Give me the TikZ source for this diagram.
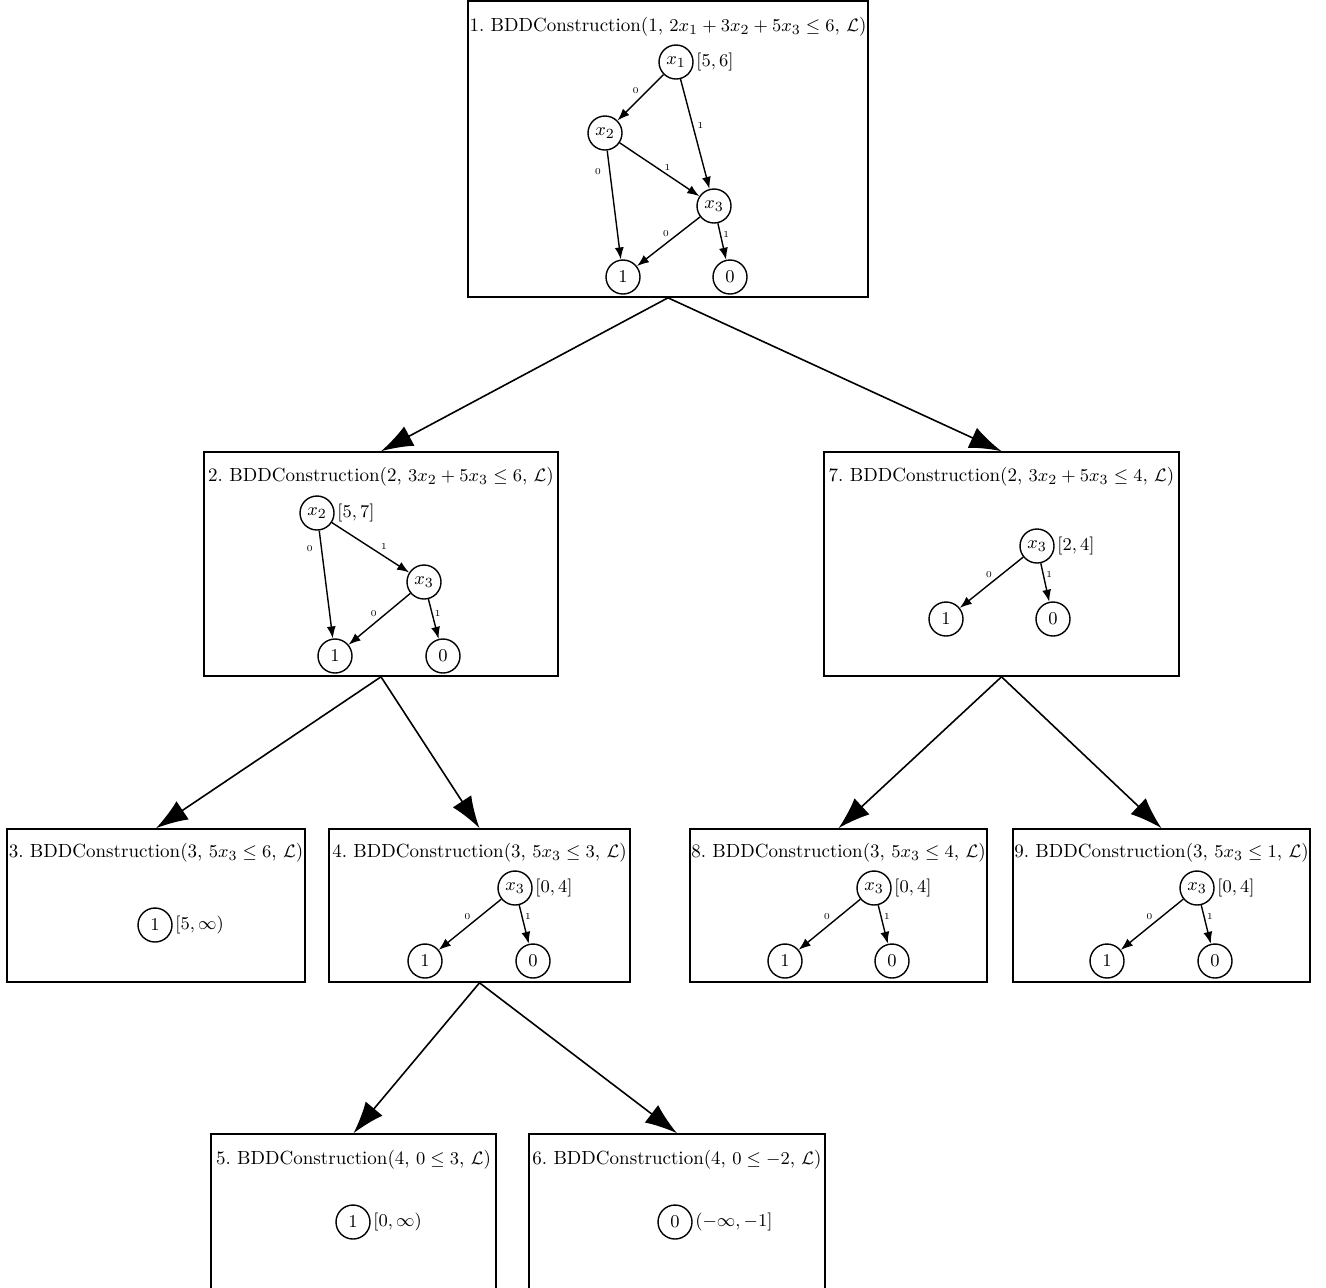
\documentclass[tikz,border=0pt]{standalone}
\usepackage{amsmath}
\usepackage{amssymb}
\usetikzlibrary{arrows.meta}
\tikzstyle{tree}=[x=0.5pt, y=-0.5pt, line width=0.7pt, font=\fontsize{9.5}{11}\selectfont]
\tikzstyle{call}=[rectangle, draw, line width=0.8pt, inner sep=0pt]
\tikzstyle{head}=[inner sep=1pt]
\tikzstyle{bdd}=[circle, draw, line width=0.7pt, minimum size=17pt, inner sep=0pt]
\tikzstyle{rng}=[inner sep=1pt, anchor=west]
\tikzstyle{br}=[inner sep=1pt, font=\fontsize{4.5}{5}\selectfont]
\tikzstyle{edge}=[-{Latex[length=6pt, width=4.5pt]}, line width=0.7pt]
\tikzstyle{expand}=[-{Latex[length=16pt, width=11pt]}, line width=0.8pt]
\newcommand{\BDD}{BDDConstruction}
\newcommand{\smallH}{76.5pt}
\newcommand{\bigH}{112pt}

\begin{document}
\begin{tikzpicture}[tree]
		\useasboundingbox (0,0) rectangle (1326,1287);

		%The call boxes
		\draw (668,149) node[call, minimum width=200pt, minimum height=148pt] (c1) {};
		\draw (381,564) node[call, minimum width=177pt, minimum height=\bigH] (c2) {};
		\draw (1001.5,564) node[call, minimum width=177.5pt, minimum height=\bigH] (c7) {};
		\draw (156,905.5) node[call, minimum width=149pt, minimum height=\smallH] (c3) {};
		\draw (479.5,905.5) node[call, minimum width=150.5pt, minimum height=\smallH] (c4) {};
		\draw (838.5,905.5) node[call, minimum width=148.5pt, minimum height=\smallH] (c8) {};
		\draw (1161.5,905.5) node[call, minimum width=148.5pt, minimum height=\smallH] (c9) {};
		\draw (353.5,1212) node[call, minimum width=142.5pt, minimum height=78pt] (c5) {};
		\draw (677,1212) node[call, minimum width=148pt, minimum height=78pt] (c6) {};

		%The titles
		\draw (668,27) node[head] (h1) {1.\ \BDD(1, $2x_1+3x_2+5x_3\leq 6$, $\mathcal{L}$)};
		\draw (381,477) node[head] (h2) {2.\ \BDD(2, $3x_2+5x_3\leq 6$, $\mathcal{L}$)};
		\draw (1001.5,477) node[head] (h7) {7.\ \BDD(2, $3x_2+5x_3\leq 4$, $\mathcal{L}$)};
		\draw (156,853) node[head] (h3) {3.\ \BDD(3, $5x_3\leq 6$, $\mathcal{L}$)};
		\draw (479.5,853) node[head] (h4) {4.\ \BDD(3, $5x_3\leq 3$, $\mathcal{L}$)};
		\draw (838.5,853) node[head] (h8) {8.\ \BDD(3, $5x_3\leq 4$, $\mathcal{L}$)};
		\draw (1161.5,853) node[head] (h9) {9.\ \BDD(3, $5x_3\leq 1$, $\mathcal{L}$)};
		\draw (353.5,1160) node[head] (h5) {5.\ \BDD(4, $0\leq 3$, $\mathcal{L}$)};
		\draw (677,1160) node[head] (h6) {6.\ \BDD(4, $0\leq -2$, $\mathcal{L}$)};

		%The recursive calls
		\draw[expand] (c1.south) -- (c2.north);
		\draw[expand] (c1.south) -- (c7.north);
		\draw[expand] (c2.south) -- (c3.north);
		\draw[expand] (c2.south) -- (c4.north);
		\draw[expand] (c7.south) -- (c8.north);
		\draw[expand] (c7.south) -- (c9.north);
		\draw[expand] (c4.south) -- (c5.north);
		\draw[expand] (c4.south) -- (c6.north);

		%The first BDD
		\draw (676,62) node[bdd] (a1) {$x_1$};
		\draw (605,133) node[bdd] (a2) {$x_2$};
		\draw (714,206) node[bdd] (a3) {$x_3$};
		\draw (623,277) node[bdd] (a1t) {$1$};
		\draw (730,277) node[bdd] (a0t) {$0$};
		\node[rng] (ar) at (a1.east) {$[5,6]$};
		\draw[edge] (a1) -- node[br, pos=.35, left=3pt] (al1) {0} (a2);
		\draw[edge] (a1) -- node[br, pos=.42, right=1pt] (al2) {1} (a3);
		\draw[edge] (a2) -- node[br, pos=.19, left=3pt] (al3) {0} (a1t);
		\draw[edge] (a2) -- node[br, pos=.6, above=1pt] (al4) {1} (a3);
		\draw[edge] (a3) -- node[br, pos=.45, above left] (al5) {0} (a1t);
		\draw[edge] (a3) -- node[br, pos=.3, right] (al6) {1} (a0t);

		%The second BDD
		\draw (317,513) node[bdd] (b2) {$x_2$};
		\draw (424,582) node[bdd] (b3) {$x_3$};
		\draw (335,656) node[bdd] (b1t) {$1$};
		\draw (443,656) node[bdd] (b0t) {$0$};
		\node[rng] (br) at (b2.east) {$[5,7]$};
		\draw[edge] (b2) -- node[br, pos=.17, left=3pt] (bl1) {0} (b1t);
		\draw[edge] (b2) -- node[br, pos=.6, above right] (bl2) {1} (b3);
		\draw[edge] (b3) -- node[br, pos=.5, above left] (bl3) {0} (b1t);
		\draw[edge] (b3) -- node[br, pos=.35, right] (bl4) {1} (b0t);

		%The seventh BDD
		\draw (1037,546) node[bdd] (g3) {$x_3$};
		\draw (946,619) node[bdd] (g1t) {$1$};
		\draw (1053,619) node[bdd] (g0t) {$0$};
		\node[rng] (gr) at (g3.east) {$[2,4]$};
		\draw[edge] (g3) -- node[br, pos=.45, above left] (gl1) {0} (g1t);
		\draw[edge] (g3) -- node[br, pos=.3, right] (gl2) {1} (g0t);

		%The third BDD
		\draw (155,925) node[bdd] (d1t) {$1$};
		\node[rng] (dr) at (d1t.east) {$[5,\infty)$};

		%The fourth BDD
		\draw (515,888) node[bdd] (e3) {$x_3$};
		\draw (425,961) node[bdd] (e1t) {$1$};
		\draw (533,961) node[bdd] (e0t) {$0$};
		\node[rng] (er) at (e3.east) {$[0,4]$};
		\draw[edge] (e3) -- node[br, pos=.45, above left] (el1) {0} (e1t);
		\draw[edge] (e3) -- node[br, pos=.3, right] (el2) {1} (e0t);

		%The eighth BDD
		\draw (874,888) node[bdd] (i3) {$x_3$};
		\draw (785,961) node[bdd] (i1t) {$1$};
		\draw (892,961) node[bdd] (i0t) {$0$};
		\node[rng] (ir) at (i3.east) {$[0,4]$};
		\draw[edge] (i3) -- node[br, pos=.45, above left] (il1) {0} (i1t);
		\draw[edge] (i3) -- node[br, pos=.3, right] (il2) {1} (i0t);

		%The ninth BDD
		\draw (1197,888) node[bdd] (j3) {$x_3$};
		\draw (1107,961) node[bdd] (j1t) {$1$};
		\draw (1215,961) node[bdd] (j0t) {$0$};
		\node[rng] (jr) at (j3.east) {$[0,4]$};
		\draw[edge] (j3) -- node[br, pos=.45, above left] (jl1) {0} (j1t);
		\draw[edge] (j3) -- node[br, pos=.3, right] (jl2) {1} (j0t);

		%The fifth and sixth BDD
		\draw (353,1222) node[bdd] (f1t) {$1$};
		\node[rng] (fr) at (f1t.east) {$[0,\infty)$};
		\draw (675,1222) node[bdd] (k0t) {$0$};
		\node[rng] (kr) at (k0t.east) {$(-\infty,-1]$};
\end{tikzpicture}
\end{document}
